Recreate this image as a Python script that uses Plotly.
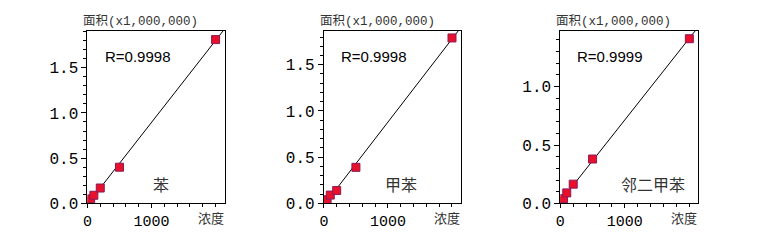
import numpy as np
import plotly.graph_objects as go

W, H = 757, 244

conc = [25, 50, 100, 200, 500, 2000]
area_benzene = [0.02, 0.05, 0.09, 0.17, 0.40, 1.81]
area_toluene = [0.02, 0.04, 0.09, 0.14, 0.39, 1.79]
area_oxylene = [0.02, 0.04, 0.09, 0.165, 0.38, 1.41]
names = ["苯", "甲苯", "邻二甲苯"]
r_values = ["R=0.9998", "R=0.9998", "R=0.9999"]
y_max = [1.91, 1.87, 1.48]
x_max = 2140
series = [area_benzene, area_toluene, area_oxylene]

# pixel layout of each panel (left, right)
panels_px = [(83, 221), (321, 459), (559, 698)]
top_px, bot_px = 32, 213
name_px = [(157, 193), (399, 193), (652, 193)]

fig = go.Figure()
MONO = "Liberation Mono, Noto Sans CJK SC, monospace"
CJK = "Noto Sans CJK SC, sans-serif"

for i, ys in enumerate(series):
    xa = "x" if i == 0 else f"x{i+1}"
    ya = "y" if i == 0 else f"y{i+1}"
    slope, icpt = np.polyfit(conc, ys, 1)
    fx = np.array([0, x_max])
    fy = slope * fx + icpt
    fig.add_trace(go.Scatter(x=fx, y=fy, mode="lines", xaxis=xa, yaxis=ya,
                             line=dict(color="black", width=1), showlegend=False,
                             hoverinfo="skip"))
    fig.add_trace(go.Scatter(x=conc, y=ys, mode="markers", xaxis=xa, yaxis=ya,
                             marker=dict(symbol="square", size=8, color="#e8102a",
                                         line=dict(color="#8a1a5a", width=1)),
                             showlegend=False))
    l, r = panels_px[i]
    xkey = "xaxis" if i == 0 else f"xaxis{i+1}"
    ykey = "yaxis" if i == 0 else f"yaxis{i+1}"
    fig.update_layout(**{
        xkey: dict(domain=[l / W, r / W], anchor=ya, range=[0, x_max],
                   tickvals=[0, 1000], ticktext=["0", "1000"],
                   ticks="outside", ticklen=4, tickcolor="black",
                   minor=dict(dtick=200, tick0=0, ticks="outside", ticklen=3, tickcolor="black"),
                   showline=True, linecolor="black", linewidth=1, mirror=True,
                   showgrid=False, zeroline=False,
                   tickfont=dict(family=MONO, size=15, color="black")),
        ykey: dict(domain=[1 - bot_px / H, 1 - top_px / H], anchor=xa, range=[0, y_max[i]],
                   dtick=0.5, tick0=0, tickformat=".1f",
                   ticks="outside", ticklen=5, tickcolor="black",
                   minor=dict(dtick=0.1, tick0=0, ticks="outside", ticklen=3, tickcolor="black"),
                   showline=True, linecolor="black", linewidth=1, mirror=True,
                   showgrid=False, zeroline=False,
                   tickfont=dict(family=MONO, size=16, color="black")),
    })
    fig.add_annotation(x=(l - 6) / W, y=1 - 23 / H, xref="paper", yref="paper",
                       xanchor="left", yanchor="middle", showarrow=False,
                       text="面积(x1,000,000)",
                       font=dict(family=MONO, size=12.5, color="#333"))
    fig.add_annotation(x=(r - 14) / W, y=1 - 228 / H, xref="paper", yref="paper",
                       xanchor="center", yanchor="middle", showarrow=False,
                       text="浓度", font=dict(family=CJK, size=13, color="#333"))
    fig.add_annotation(x=(l + 50) / W, y=1 - 59 / H, xref="paper", yref="paper",
                       xanchor="center", yanchor="middle", showarrow=False,
                       text=r_values[i],
                       font=dict(family="Liberation Sans, Arial, sans-serif", size=15, color="black"))
    nx, ny = name_px[i]
    fig.add_annotation(x=nx / W, y=1 - ny / H, xref="paper", yref="paper",
                       xanchor="center", yanchor="middle", showarrow=False,
                       text=names[i], font=dict(family=CJK, size=16, color="#333"))

fig.update_layout(width=W, height=H, margin=dict(l=0, r=0, t=0, b=0),
                  paper_bgcolor="white", plot_bgcolor="white")
fig.write_html("out.html")
